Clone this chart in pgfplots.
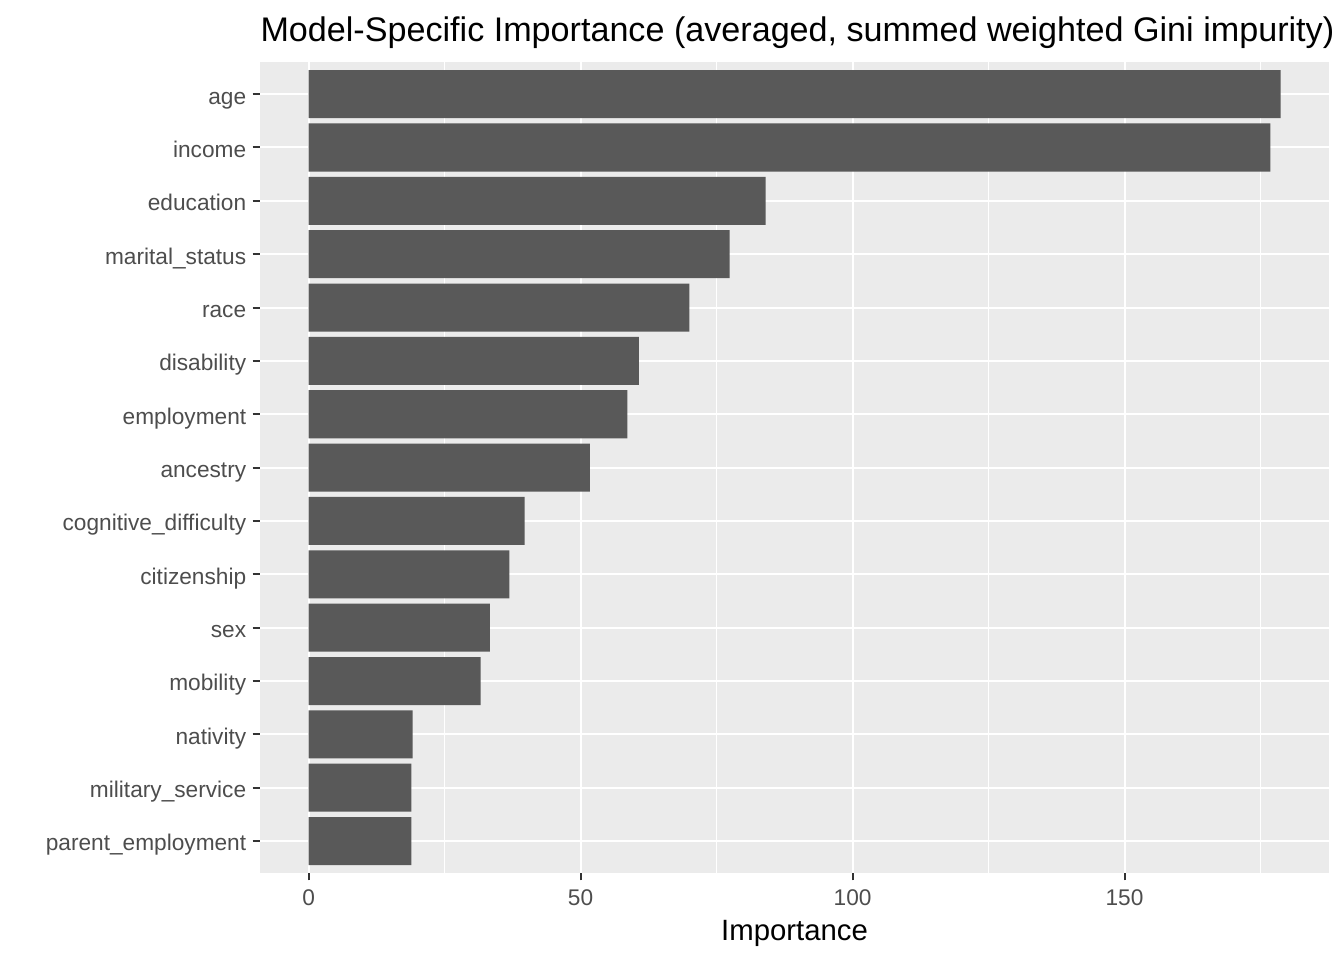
\documentclass[border=0pt]{standalone}
\usepackage{pgfplots}
\pgfplotsset{compat=1.18}
\usepackage{fontspec}
\setmainfont{Liberation Sans}
\definecolor{panel}{HTML}{EBEBEB}
\definecolor{barc}{HTML}{595959}
\definecolor{tickc}{HTML}{333333}
\definecolor{labc}{HTML}{4D4D4D}
\begin{document}
\begin{tikzpicture}
\useasboundingbox (0,0) rectangle (504pt,360pt);
\begin{axis}[
  name=ax,
  at={(97.5pt,32.6pt)}, anchor=south west,
  scale only axis, width=400.9pt, height=304.1pt,
  xmin=-8.94, xmax=187.6, ymin=-0.6, ymax=14.6,
  axis background/.style={fill=panel},
  axis line style={draw=none},
  xbar, bar width=0.9, bar shift=0pt,
  xtick={0,50,100,150}, minor xtick={25,75,125,175},
  ytick={0,...,14},
  yticklabels={parent\_employment, military\_service, nativity, mobility, sex, citizenship, cognitive\_difficulty, ancestry, employment, disability, race, marital\_status, education, income, age},
  xmajorgrids, ymajorgrids, xminorgrids,
  major grid style={white, line width=0.75pt},
  minor grid style={white, line width=0.375pt},
  tick align=outside, major tick length=2.75pt, minor tick length=0pt,
  tick style={tickc, line width=0.75pt},
  xtick pos=bottom, ytick pos=left,
  /pgf/number format/assume math mode=true,
  ticklabel style={font=\fontsize{8.5}{10}\selectfont, text=labc},
  yticklabel style={anchor=base east, yshift=-0.37em, xshift=1.1pt},
  xlabel={Importance},
  xlabel style={font=\fontsize{11}{13}\selectfont, at={(rel axis cs:0.5,0)}, anchor=base, yshift=-25.1pt},
]
\addplot[fill=barc, draw=none] coordinates {
 (18.9,0) (18.9,1) (19.1,2) (31.6,3) (33.3,4) (36.9,5) (39.7,6) (51.7,7)
 (58.6,8) (60.7,9) (70.0,10) (77.4,11) (84.0,12) (176.8,13) (178.7,14)};
\end{axis}
\node[anchor=base west, inner sep=0pt, font=\fontsize{12.8}{15}\selectfont] at ([yshift=7.9pt]ax.north west) {Model-Specific Importance (averaged, summed weighted Gini impurity)};
\end{tikzpicture}
\end{document}
